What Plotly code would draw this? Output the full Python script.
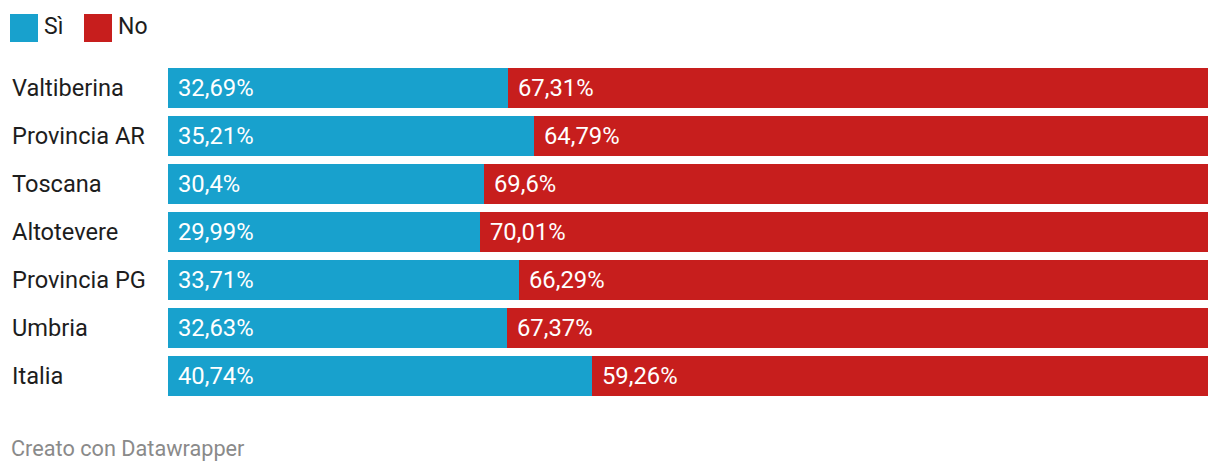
import plotly.graph_objects as go

categories = ["Valtiberina", "Provincia AR", "Toscana", "Altotevere", "Provincia PG", "Umbria", "Italia"]
si_values = [32.69, 35.21, 30.4, 29.99, 33.71, 32.63, 40.74]
no_values = [67.31, 64.79, 69.6, 70.01, 66.29, 67.37, 59.26]
series_names = ["Sì", "No"]
colors = ["#18a1cd", "#c71e1d"]

W, H = 1220, 474
L, R, T, B = 168, 12, 64, 74
PW, PH = W - L - R, H - T - B

def px(x):
    return (x - L) / PW

def py(y):
    return (H - B - y) / PH

def fmt(v):
    s = ("%.2f" % v).rstrip("0").rstrip(".")
    return s.replace(".", ",") + "%"

fig = go.Figure()
for name, vals, col in zip(series_names, [si_values, no_values], colors):
    fig.add_trace(go.Bar(
        y=categories, x=vals, name=name, orientation="h",
        marker=dict(color=col, line=dict(width=0)),
        hoverinfo="skip", showlegend=False,
    ))

font = "Roboto"
ann = []
shapes = []
for i, c in enumerate(categories):
    ann.append(dict(x=px(10), xref="paper", y=c, yref="y", text=c, showarrow=False,
                    xanchor="left", yanchor="middle",
                    font=dict(family=font, size=23.6, color="#1d1d1d")))
    ann.append(dict(x=0, xref="x", y=c, yref="y", text=fmt(si_values[i]), showarrow=False,
                    xanchor="left", yanchor="middle", xshift=8,
                    font=dict(family=font, size=23.8, color="#ffffff")))
    ann.append(dict(x=si_values[i], xref="x", y=c, yref="y", text=fmt(no_values[i]), showarrow=False,
                    xanchor="left", yanchor="middle", xshift=8,
                    font=dict(family=font, size=23.8, color="#ffffff")))

# legend
leg = [(10, 42), (84, 116)]
for (sx, tx), name, col in zip(leg, series_names, colors):
    shapes.append(dict(type="rect", xref="paper", yref="paper",
                       x0=px(sx), x1=px(sx + 28), y0=py(42), y1=py(14),
                       fillcolor=col, line=dict(width=0)))
    ann.append(dict(x=px(tx), xref="paper", y=py(27), yref="paper", text=name, showarrow=False,
                    xanchor="left", yanchor="middle",
                    font=dict(family=font, size=23, color="#1d1d1d")))

ann.append(dict(x=px(9), xref="paper", y=py(448), yref="paper", text="Creato con Datawrapper",
                showarrow=False, xanchor="left", yanchor="middle",
                font=dict(family=font, size=21.7, color="#8a8a8a")))

fig.update_layout(
    barmode="stack", bargap=8 / 48,
    width=W, height=H,
    margin=dict(l=L, r=R, t=T, b=B, pad=0),
    paper_bgcolor="white", plot_bgcolor="white",
    xaxis=dict(range=[0, 100], visible=False, fixedrange=True),
    yaxis=dict(autorange="reversed", visible=False, fixedrange=True),
    annotations=ann, shapes=shapes,
    font=dict(family=font),
)

fig.write_html("out.html", config={"displayModeBar": False},
               post_script="document.body.style.margin='0';document.body.style.overflow='hidden';")
